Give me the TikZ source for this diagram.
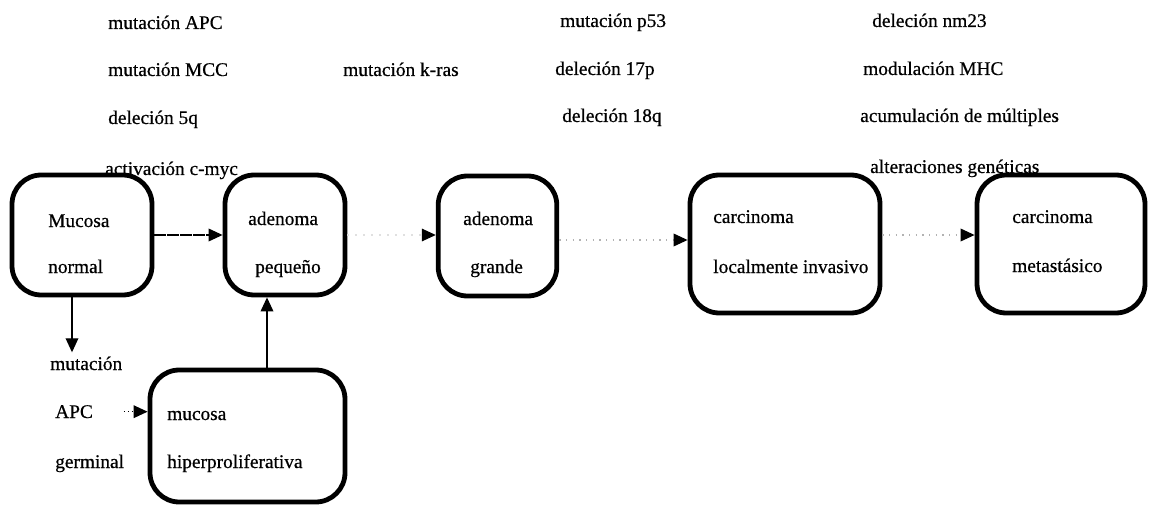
\documentclass[tikz,border=0pt]{standalone}
\usepackage{fontspec}
\setmainfont{Liberation Serif}[FakeBold=0.6]
\usetikzlibrary{arrows.meta}
\begin{document}
\begin{tikzpicture}[x=0.75pt,y=-0.75pt,
  box/.style={draw, line width=3.6pt, rounded corners=22pt, inner sep=0pt},
  lbl/.style={anchor=base west, inner sep=0pt, font=\fontsize{14.5}{17}\selectfont},
  tip/.style={-{Triangle[length=10.5pt,width=9.5pt,color=black,fill=black]}},
  link/.style={tip, line width=1pt},
  dlink/.style={tip, line width=1pt, dash pattern=on 9pt off 0.7pt},
  faint/.style={tip, draw=black!30, line width=1pt, dash pattern=on 1pt off 4pt},
  ghost/.style={tip, draw=black!12, line width=0.8pt, dash pattern=on 1pt off 5pt}]
\useasboundingbox (0,0) rectangle (1149,506);

% boxes
\node[box, minimum width=105pt, minimum height=90pt] (mucosa) at (82,235) {};
\node[box, minimum width=90pt, minimum height=90pt] (pequeno) at (285,235) {};
\node[box, minimum width=89pt, minimum height=90pt] (grande) at (497.5,236) {};
\node[box, minimum width=142.5pt, minimum height=103.5pt] (local) at (785,244) {};
\node[box, minimum width=126pt, minimum height=103.5pt] (meta) at (1061,244) {};
\node[box, minimum width=146.25pt, minimum height=99pt] (hiper) at (247.5,436) {};

% box texts
\node[lbl] (m1) at (48,227) {Mucosa};
\node[lbl] (m2) at (48,273) {normal};
\node[lbl] (p1) at (248,225) {adenoma};
\node[lbl] (p2) at (255,273) {pequeño};
\node[lbl] (g1) at (463,225) {adenoma};
\node[lbl] (g2) at (470,273) {grande};
\node[lbl] (l1) at (713,223) {carcinoma};
\node[lbl] (l2) at (713,273) {localmente invasivo};
\node[lbl] (c1) at (1012,223) {carcinoma};
\node[lbl] (c2) at (1012,272) {metastásico};
\node[lbl] (h1) at (167,420) {mucosa};
\node[lbl] (h2) at (167,468) {hiperproliferativa};

% side texts
\node[lbl] (mut) at (50,370) {mutación};
\node[lbl] (apc) at (55,418) {APC};
\node[lbl] (ger) at (55,468) {germinal};

% upper labels
\node[lbl] (a1) at (108,29) {mutación APC};
\node[lbl] (a2) at (108,76) {mutación MCC};
\node[lbl] (a3) at (108,124) {deleción 5q};
\node[lbl] (a4) at (105,175) {activación c-myc};
\node[lbl] (k1) at (343,76) {mutación k-ras};
\node[lbl] (q1) at (560,27) {mutación p53};
\node[lbl] (q2) at (555,75) {deleción 17p};
\node[lbl] (q3) at (562,122) {deleción 18q};
\node[lbl] (r1) at (872,27) {deleción nm23};
\node[lbl] (r2) at (863,75) {modulación MHC};
\node[lbl] (r3) at (860,122) {acumulación de múltiples};
\node[lbl] (r4) at (870,173) {alteraciones genéticas};

% connectors
\draw[dlink] (mucosa) -- (pequeno);
\draw[ghost] (pequeno.east) -- (pequeno.east -| grande.west);
\draw[faint] ([yshift=-3pt]grande.east) -- ([yshift=-3pt]grande.east -| local.west);
\draw[faint] ([yshift=6.75pt]local.east) -- ([yshift=6.75pt]meta.west);
\draw[link] ([xshift=-7.5pt]mucosa.south) -- ([xshift=-7.5pt]mucosa.south |- mut.north) [shorten >=3pt];
\draw[tip, line width=1pt, dotted] ([xshift=23pt]apc.east) -- (apc.east -| hiper.west);
\coordinate (vx) at (267,0);
\draw[link] (vx |- hiper.north) -- (vx |- pequeno.south);
\end{tikzpicture}
\end{document}
